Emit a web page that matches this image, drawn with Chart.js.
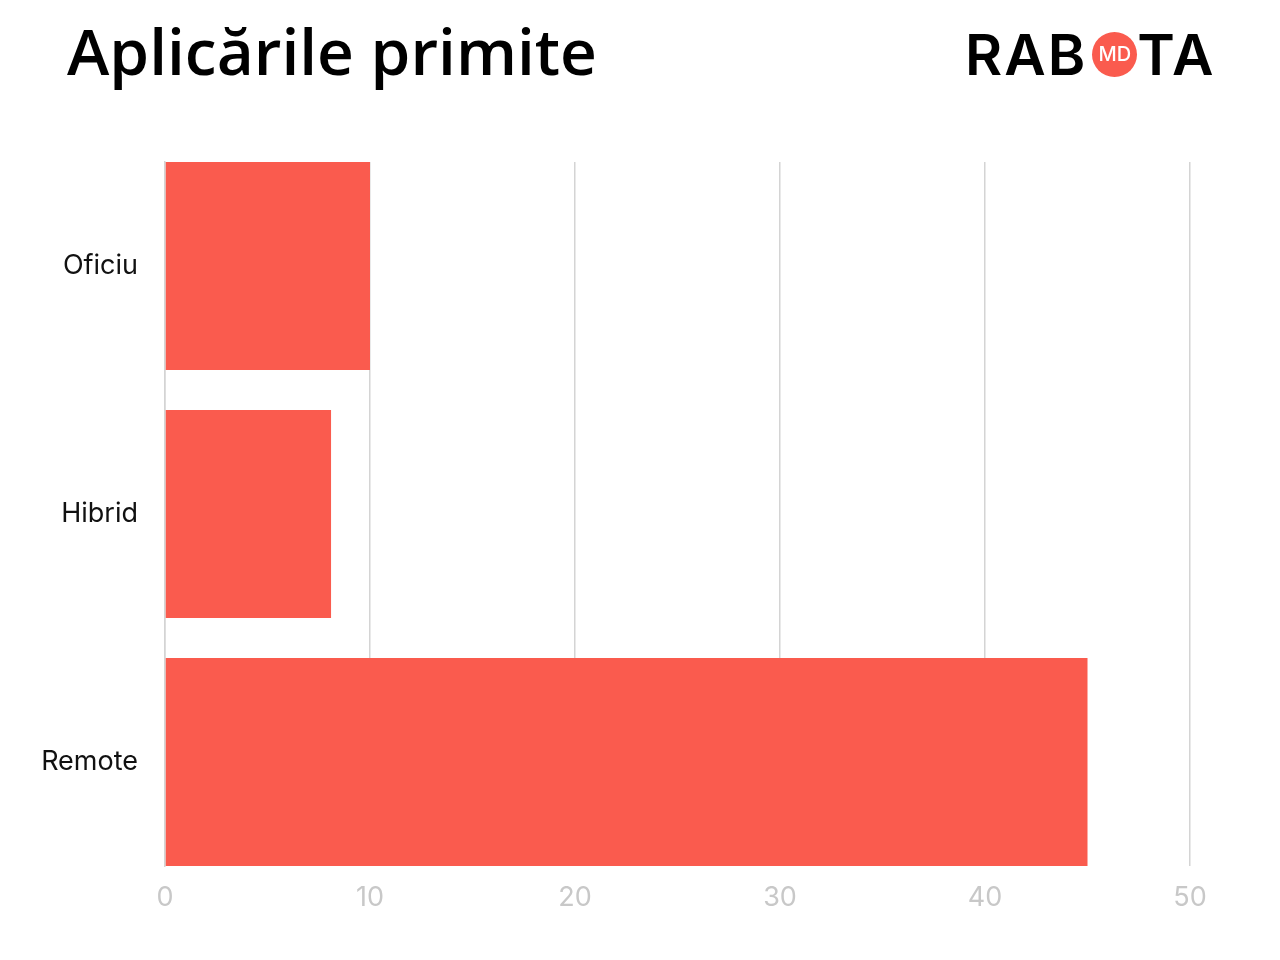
<!DOCTYPE html>
<html>
<head>
<meta charset="utf-8">
<script src="https://cdn.jsdelivr.net/npm/chart.js@4"></script>
<style>
  body { margin: 0; background: #fff; }
  #wrap { position: relative; width: 1280px; height: 960px; }
  #title {
    position: absolute; left: 67px; top: 13px;
    font-family: "Open Sans", sans-serif; font-weight: 600; font-size: 64px;
    color: #000; margin: 0; line-height: 1.2;
  }
  #logo {
    position: absolute; left: 965px; top: 22px; height: 64px;
    display: flex; align-items: center;
    font-family: Inter, sans-serif; font-weight: 600; font-size: 57px; color: #000;
    letter-spacing: 2px;
  }
  #logo .dot {
    width: 45px; height: 45px; border-radius: 50%; background: #fa5b4e;
    color: #fff; font-size: 20px; font-weight: 500; letter-spacing: 0;
    display: flex; align-items: center; justify-content: center; margin: 0 0 0 5px;
  }
  canvas { position: absolute; left: 0; top: 0; }
</style>
</head>
<body>
<div id="wrap">
  <canvas id="chart" width="1280" height="960"></canvas>
  <h1 id="title">Aplicările primite</h1>
  <div id="logo">RAB<span class="dot">MD</span>TA</div>
</div>
<script>
const categories = ["Oficiu", "Hibrid", "Remote"];
const applications = [10, 8.1, 45];
const xTicks = [0, 10, 20, 30, 40, 50];

const chartArea = document.getElementById("chart");
var chart = new Chart(chartArea, {
    type: 'bar',
    data: {
        datasets: [{
            label: 'Aplicări',
            data: applications.map((v, i) => ({ x: v, y: i })),
            backgroundColor: '#fa5b4e',
            barPercentage: 0.839,
            categoryPercentage: 1
        }]
    },
    options: {
        indexAxis: 'y',
        responsive: false,
        animation: false,
        layout: {
            padding: { top: 162, right: 90, bottom: 30, left: 0 }
        },
        plugins: {
            legend: { display: false },
            tooltip: { enabled: false }
        },
        scales: {
            x: {
                min: 0,
                max: 50,
                afterBuildTicks: axis => {
                    axis.ticks = xTicks.map(v => ({ value: v }));
                },
                afterFit: axis => { axis.height = 64; },
                grid: { color: '#d4d4d4', lineWidth: 1.5, drawTicks: false },
                border: { display: false },
                ticks: {
                    padding: 16,
                    color: '#c8c8c8',
                    font: { family: 'Inter', size: 27 }
                }
            },
            y: {
                type: 'linear',
                offset: false,
                reverse: true,
                min: -0.42,
                max: categories.length - 1 + 0.42,
                afterBuildTicks: axis => {
                    axis.ticks = categories.map((c, i) => ({ value: i }));
                },
                afterFit: axis => { axis.width = 165; },
                grid: { display: false, drawTicks: false },
                border: { color: '#d4d4d4', width: 1.5 },
                ticks: {
                    padding: 27,
                    color: '#111',
                    font: { family: 'Inter', size: 27 },
                    callback: v => categories[v]
                }
            }
        }
    }
});
</script>
</body>
</html>
